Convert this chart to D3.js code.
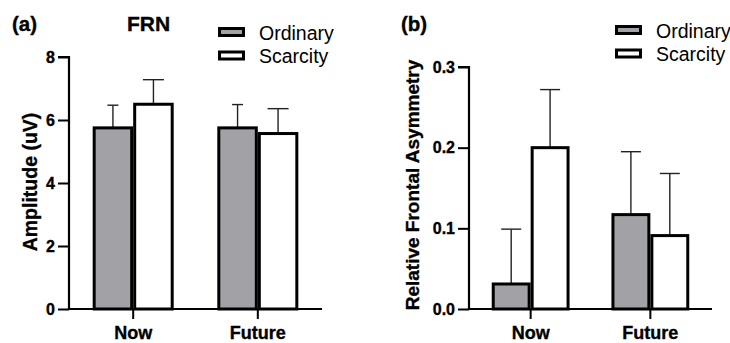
<!DOCTYPE html>
<html><head><meta charset="utf-8">
<script src="https://cdn.jsdelivr.net/npm/d3@7"></script>
<style>body{margin:0;background:#fff}svg{display:block}svg text{font-family:"Liberation Sans",Arial,sans-serif}
.bt{stroke:#000;stroke-width:0.35px;font-weight:bold}</style>
</head><body><svg id="c" width="730" height="343"></svg>
<script>
const categories = ["Now", "Future"];
const seriesNames = ["Ordinary", "Scarcity"];
// Panel (a) FRN amplitude
const frnOrdinary = [5.75, 5.75];
const frnOrdinaryErr = [0.72, 0.74];
const frnScarcity = [6.50, 5.57];
const frnScarcityErr = [0.78, 0.79];
const frnTicks = [0, 2, 4, 6, 8];
// Panel (b) relative frontal asymmetry
const rfaOrdinary = [0.031, 0.117];
const rfaOrdinaryErr = [0.068, 0.078];
const rfaScarcity = [0.200, 0.091];
const rfaScarcityErr = [0.072, 0.077];
const rfaTicks = [0, 0.1, 0.2, 0.3];

const svg = d3.select("#c");
const fills = ["#a2a2a6", "#ffffff"];
const FONT = '"Liberation Sans", Arial, sans-serif';

function panel(cfg) {
  const g = svg.append("g");
  const x0 = d3.scaleBand().domain(categories).range([cfg.x0, cfg.x1]).paddingInner(0.35).paddingOuter(0.19);
  const x1 = d3.scaleBand().domain(seriesNames).range([0, x0.bandwidth()]);
  const y = d3.scaleLinear().domain(cfg.domain).range([309, cfg.yTop]);
  const rows = [];
  categories.forEach((c, i) => {
    rows.push({cat: c, s: 0, v: cfg.ord[i], e: cfg.ordErr[i]});
    rows.push({cat: c, s: 1, v: cfg.sca[i], e: cfg.scaErr[i]});
  });
  const eg = g.append("g");
  rows.forEach(r => {
    const cx = x0(r.cat) + x1(seriesNames[r.s]) + x1.bandwidth() / 2;
    const cw = cfg.caps[r.s] / 2;
    eg.append("line").attr("x1", cx).attr("x2", cx).attr("y1", y(r.v)).attr("y2", y(r.v + r.e))
      .attr("stroke", "#222").attr("stroke-width", 1.4);
    eg.append("line").attr("x1", cx - cw).attr("x2", cx + cw).attr("y1", y(r.v + r.e)).attr("y2", y(r.v + r.e))
      .attr("stroke", "#222").attr("stroke-width", 1.4);
  });
  g.append("g").selectAll("rect").data(rows).join("rect")
    .attr("x", r => x0(r.cat) + x1(seriesNames[r.s]) + 1.5)
    .attr("width", x1.bandwidth() - 3)
    .attr("y", r => y(r.v))
    .attr("height", r => y(0) - y(r.v))
    .attr("fill", r => fills[r.s])
    .attr("stroke", "#000").attr("stroke-width", 3);
  const ya = g.append("g").attr("transform", `translate(${cfg.x0},0)`)
    .call(d3.axisLeft(y).tickValues(cfg.ticks).tickFormat(cfg.fmt).tickSize(11).tickPadding(3));
  ya.attr("font-family", FONT).attr("font-size", cfg.tickSize);
  ya.select(".domain").attr("stroke", "#000").attr("stroke-width", 2.2).attr("d", `M-11,${cfg.yTop}H0V309`);
  ya.selectAll(".tick line").attr("stroke-width", 2);
  ya.selectAll("text").attr("class", "bt").style("font-size", cfg.tickSize + "px").attr("fill", "#000");
  const xa = g.append("g").attr("transform", `translate(0,309)`)
    .call(d3.axisBottom(x0).tickSize(10).tickPadding(7));
  xa.attr("font-family", FONT).attr("font-size", 18);
  xa.select(".domain").attr("stroke-width", 2.2).attr("d", `M${cfg.x0},0H${cfg.x1}`);
  xa.selectAll(".tick line").attr("stroke-width", 2);
  xa.selectAll("text").attr("class", "bt").style("font-size", "18px").attr("fill", "#000").attr("dy", "0.71em");
  g.append("text").attr("class", "bt").attr("transform", `translate(${cfg.labX},${cfg.labY}) rotate(-90)`)
    .attr("text-anchor", "middle").style("font-size", cfg.labSize + "px").text(cfg.ylabel);
  g.append("text").attr("class", "bt").attr("x", cfg.letterX).attr("y", 31).style("font-size", "20.5px").text(cfg.letter);
  seriesNames.forEach((s, i) => {
    g.append("rect").attr("x", cfg.legX + 1.5).attr("y", cfg.legY + i * 23.5 + 1.5).attr("width", 24).attr("height", 7)
      .attr("fill", fills[i]).attr("stroke", "#000").attr("stroke-width", 3);
    g.append("text").attr("x", cfg.legX + 41).attr("y", cfg.legY + i * 23.5 + 12.5).style("font-size", "19.5px").text(s);
  });
  return g;
}

const ga = panel({x0: 69, x1: 322, domain: [0, 8], yTop: 57, ord: frnOrdinary, ordErr: frnOrdinaryErr,
  sca: frnScarcity, scaErr: frnScarcityErr, ticks: frnTicks, fmt: d3.format("d"), caps: [11, 21], tickSize: 16,
  ylabel: "Amplitude (uV)", labX: 37, labY: 182, labSize: 19.5, letter: "(a)", letterX: 12, legX: 218, legY: 27});
ga.append("text").attr("class", "bt").attr("x", 127).attr("y", 31).style("font-size", "21px").text("FRN");

panel({x0: 469, x1: 712, domain: [0, 0.3], yTop: 67, ord: rfaOrdinary, ordErr: rfaOrdinaryErr,
  sca: rfaScarcity, scaErr: rfaScarcityErr, ticks: rfaTicks, fmt: d3.format(".1f"), caps: [20, 20], tickSize: 16,
  ylabel: "Relative Frontal Asymmetry", labX: 419, labY: 185, labSize: 19, letter: "(b)", letterX: 401, legX: 615, legY: 25});
</script></body></html>
